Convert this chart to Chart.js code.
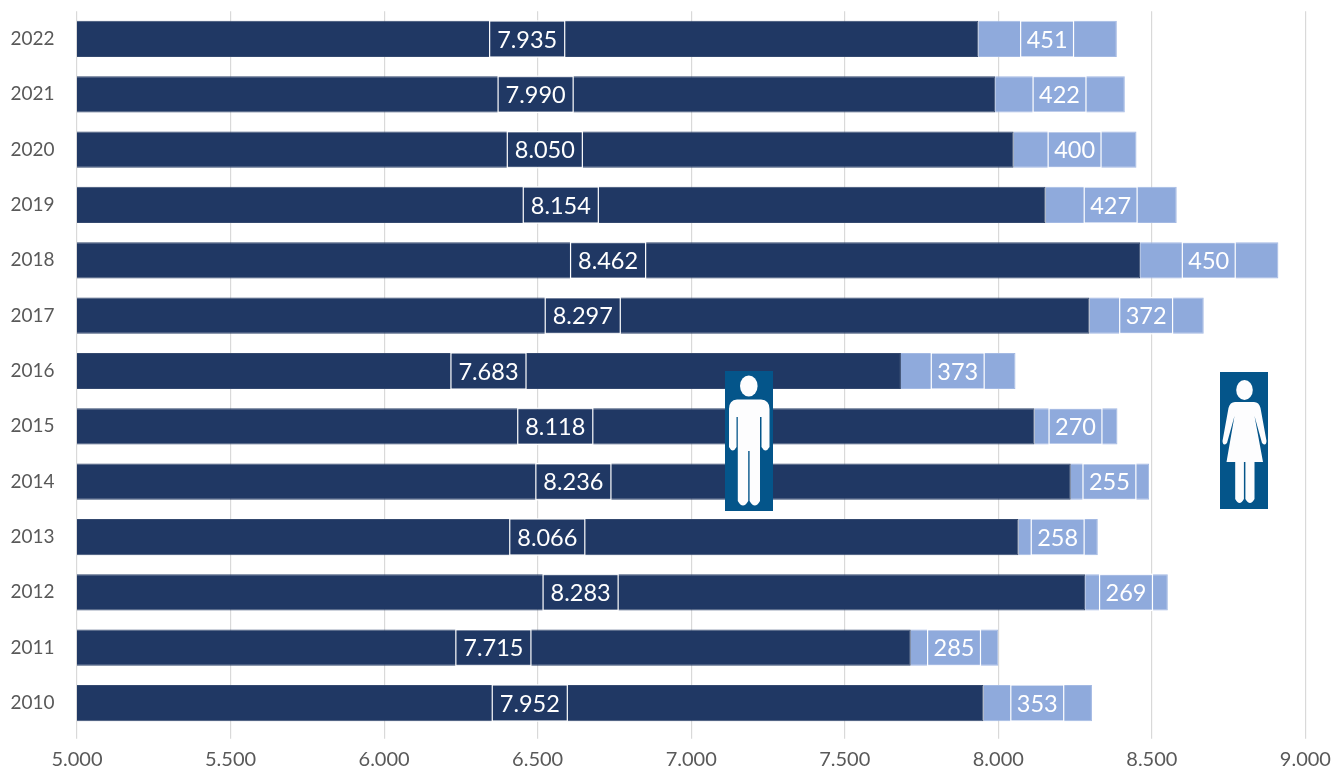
<!DOCTYPE html>
<html><head><meta charset="utf-8">
<style>html,body{margin:0;padding:0;background:#fff}canvas{display:block}</style>
<script src="https://cdn.jsdelivr.net/npm/chart.js@4"></script>
</head><body><canvas id="c" width="1343" height="769"></canvas>
<script>
const years = ['2022','2021','2020','2019','2018','2017','2016','2015','2014','2013','2012','2011','2010'];
const men = [7935,7990,8050,8154,8462,8297,7683,8118,8236,8066,8283,7715,7952];
const women = [451,422,400,427,450,372,373,270,255,258,269,285,353];
const fmt = v => String(Math.floor(v/1000)>0 ? Math.floor(v/1000)+'.'+String(v%1000).padStart(3,'0') : v);
const FONT = 'Lato, Carlito, sans-serif';

const boxLabels = {
  id:'boxLabels',
  afterDatasetsDraw(chart){
    const ctx = chart.ctx;
    ctx.save();
    ctx.font = '23.5px '+FONT;
    ctx.textAlign='center'; ctx.textBaseline='middle';
    chart.data.datasets.forEach((ds,i)=>{
      chart.getDatasetMeta(i).data.forEach((el,j)=>{
        const p = el.getProps(['x','y','base','height'],true);
        const left = Math.max(p.base, chart.chartArea.left);
        const cx = (left+p.x)/2 - 0.5;
        const txt = fmt(ds.data[j]);
        const w = ctx.measureText(txt).width + (i===0 ? 15 : 12);
        ctx.strokeStyle='#ffffff'; ctx.lineWidth=1.2;
        ctx.strokeRect(cx-w/2, p.y-p.height/2, w, p.height);
        ctx.fillStyle='#ffffff';
        ctx.fillText(txt,cx,p.y+1);
      });
    });
    ctx.restore();
  }
};

const icons = {
  id:'icons',
  afterDraw(chart){
    const ctx=chart.ctx; ctx.save();
    // man
    ctx.fillStyle='#04558A'; ctx.fillRect(725,371,48,140);
    ctx.fillStyle='#FDFDFE';
    ctx.beginPath();ctx.ellipse(748.8,386,8.8,10.5,0,0,Math.PI*2);ctx.fill();
    ctx.beginPath();
    ctx.moveTo(737,399.5);ctx.lineTo(761,399.5);ctx.quadraticCurveTo(769.5,400,769.5,409);
    ctx.lineTo(769.5,447);ctx.quadraticCurveTo(765.5,454,761.5,447);ctx.lineTo(761.5,417);ctx.lineTo(760,417);
    ctx.lineTo(760,501);ctx.quadraticCurveTo(754.8,510,749.6,501);ctx.lineTo(749.6,451);ctx.lineTo(748.2,451);
    ctx.lineTo(748.2,501);ctx.quadraticCurveTo(743,510,737.8,501);ctx.lineTo(737.8,417);ctx.lineTo(736.5,417);
    ctx.lineTo(736.5,447);ctx.quadraticCurveTo(732.7,454,729,447);ctx.lineTo(729,409);ctx.quadraticCurveTo(729,400,737,399.5);
    ctx.closePath();ctx.fill();
    // woman
    ctx.fillStyle='#04558A'; ctx.fillRect(1220,372,48,137);
    ctx.fillStyle='#FDFDFE';
    ctx.beginPath();ctx.ellipse(1244.5,390,8.3,10,0,0,Math.PI*2);ctx.fill();
    ctx.beginPath();
    ctx.moveTo(1235,402);ctx.lineTo(1254,402);ctx.quadraticCurveTo(1259,402,1260.5,408);
    ctx.lineTo(1266.5,441);ctx.quadraticCurveTo(1266,447,1262,443);ctx.lineTo(1254.5,416);
    ctx.lineTo(1263,462);ctx.lineTo(1254.5,462);ctx.lineTo(1254.5,499);ctx.quadraticCurveTo(1250,507,1245.4,499);
    ctx.lineTo(1245.4,462);ctx.lineTo(1243.9,462);ctx.lineTo(1243.9,499);ctx.quadraticCurveTo(1239.5,507,1235.2,499);
    ctx.lineTo(1235.2,462);ctx.lineTo(1226.5,462);ctx.lineTo(1234.5,416);
    ctx.lineTo(1227,443);ctx.quadraticCurveTo(1223,447,1222.5,441);ctx.lineTo(1228.5,408);
    ctx.quadraticCurveTo(1230,402,1235,402);
    ctx.closePath();ctx.fill();
    ctx.restore();
  }
};

new Chart(document.getElementById('c'),{
  type:'bar',
  data:{labels:years,datasets:[
    {label:'Männer',data:men,backgroundColor:'#203864',borderColor:'#34496F',borderWidth:1,barPercentage:0.655,categoryPercentage:1},
    {label:'Frauen',data:women,backgroundColor:'#8FAADC',borderColor:'#A3B9E3',borderWidth:1,barPercentage:0.655,categoryPercentage:1}
  ]},
  options:{
    indexAxis:'y',responsive:false,animation:false,
    layout:{padding:{top:11.3,right:37.6,left:0,bottom:0}},
    plugins:{legend:{display:false},tooltip:{enabled:false}},
    scales:{
      x:{stacked:true,min:5000,max:9000,
        ticks:{stepSize:500,callback:v=>fmt(v),color:'#595959',font:{family:FONT,size:20},padding:9,maxRotation:0},
        grid:{color:'#D9D9D9',lineWidth:1.2,tickLength:8,drawOnChartArea:true},border:{display:false},
        afterFit(s){s.height=38.3;}},
      y:{stacked:true,
        ticks:{color:'#595959',font:{family:FONT,size:19},padding:14.5},
        grid:{display:false},border:{display:false},
        afterFit(s){s.width=77;s.paddingTop=0;s.paddingBottom=0;}}
    }
  },
  plugins:[boxLabels,icons]
});
</script></body></html>
